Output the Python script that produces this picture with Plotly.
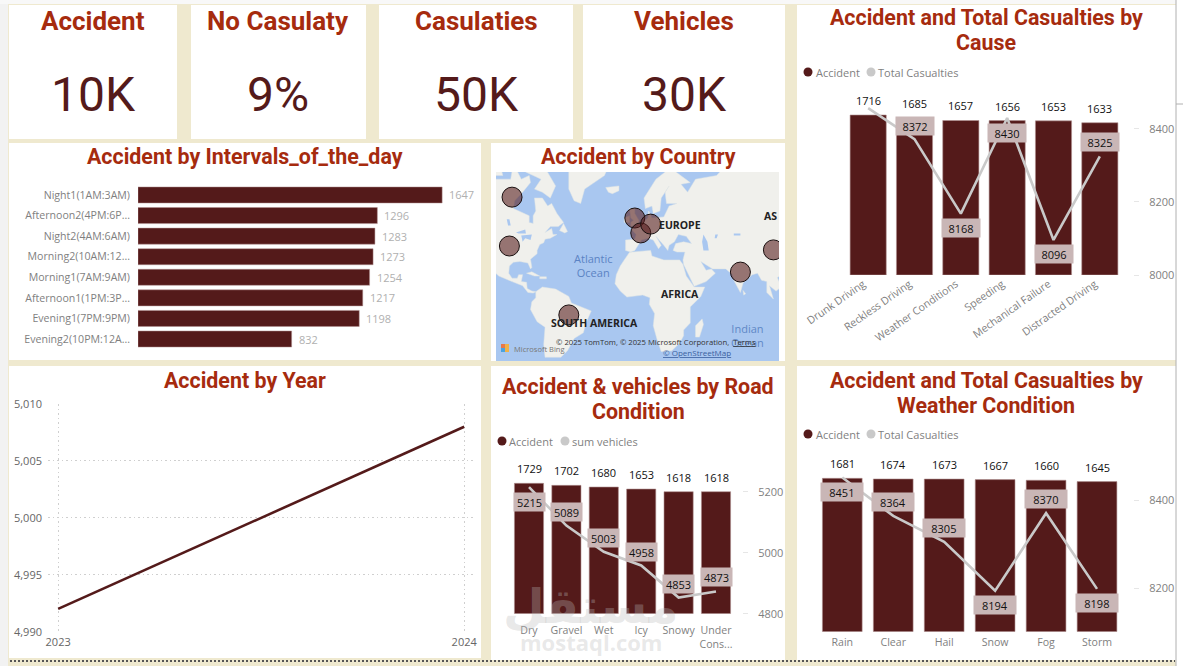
import math
import plotly.graph_objects as go

W, H = 1183, 666

# KPI cards
kpi_titles = ["Accident", "No Casulaty", "Casulaties", "Vehicles"]
kpi_values = ["10K", "9%", "50K", "30K"]

# Accident by interval of the day
interval_labels = ["Night1(1AM:3AM)", "Afternoon2(4PM:6P...", "Night2(4AM:6AM)", "Morning2(10AM:12...",
                   "Morning1(7AM:9AM)", "Afternoon1(1PM:3P...", "Evening1(7PM:9PM)", "Evening2(10PM:12A..."]
interval_values = [1647, 1296, 1283, 1273, 1254, 1217, 1198, 832]

# Accident by year
years = [2023, 2024]
year_values = [4992, 5008]

# Accident & vehicles by road condition
road_labels = ["Dry", "Gravel", "Wet", "Icy", "Snowy", "Under<br>Cons..."]
road_accidents = [1729, 1702, 1680, 1653, 1618, 1618]
road_vehicles = [5215, 5089, 5003, 4958, 4853, 4873]

# Accident and casualties by cause
cause_labels = ["Drunk Driving", "Reckless Driving", "Weather Conditions", "Speeding",
                "Mechanical Failure", "Distracted Driving"]
cause_accidents = [1716, 1685, 1657, 1656, 1653, 1633]
cause_casualties = [8457, 8372, 8168, 8430, 8096, 8325]

# Accident and casualties by weather
weather_labels = ["Rain", "Clear", "Hail", "Snow", "Fog", "Storm"]
weather_accidents = [1681, 1674, 1673, 1667, 1660, 1645]
weather_casualties = [8451, 8364, 8305, 8194, 8370, 8198]

# Country bubbles on the map
country_lon = [-95, -97, -52, -2, 2.5, 10, 78, 103]
country_lat = [62.3, 39.6, -9, 54, 46.8, 51.2, 22.8, 37.3]

# Rough coastlines as (lon, lat) rings
north_america = [(-130, 72), (-125, 70), (-115, 68), (-108, 68), (-96, 68), (-94, 72), (-88, 68), (-82, 69),
                 (-81, 67), (-87, 64), (-93, 61), (-94, 58), (-88, 56.5), (-82, 55), (-82, 52), (-79, 51.5),
                 (-79, 55), (-77, 57), (-78, 62), (-72, 62), (-68, 59), (-65, 60), (-61, 56), (-56, 52),
                 (-60, 50), (-66, 50), (-70, 47), (-65, 49), (-64, 46), (-61, 46), (-66, 44), (-70, 43.5),
                 (-71, 41.5), (-74, 40.5), (-76, 37), (-76, 35), (-81, 31.5), (-80, 26), (-81, 25), (-83, 29),
                 (-89, 30), (-94, 29.5), (-97, 27), (-97.5, 22), (-95, 18.5), (-91, 18.5), (-90, 21), (-87, 21),
                 (-88, 16), (-84, 15.5), (-83.5, 11), (-80, 9), (-77, 8.5), (-79, 7.5), (-83, 8), (-87, 13),
                 (-95, 16), (-105, 20), (-110, 24), (-113, 31), (-118, 33), (-125, 40), (-125, 48), (-130, 54)]
baffin = [(-80, 73), (-70, 71), (-62, 66), (-66, 62), (-72, 64), (-78, 65), (-73, 68), (-85, 70), (-88, 73)]
victoria = [(-117, 73), (-105, 73), (-102, 69), (-115, 69)]
newfoundland = [(-59, 48), (-56, 51.5), (-53, 47.5), (-55, 46.8)]
greenland = [(-55, 82), (-66, 78), (-56, 75), (-52, 70), (-52, 65), (-48, 61), (-43, 60), (-40, 65),
             (-25, 69), (-21, 72), (-20, 80), (-40, 83)]
iceland = [(-24, 65.5), (-14, 66), (-14, 64.5), (-19, 63.5), (-22, 64)]
south_america = [(-77, 8.5), (-72, 12), (-62, 10.5), (-52, 5), (-50, 0), (-44, -2.5), (-35, -6), (-39, -15),
                 (-41, -22), (-48, -26), (-53, -34), (-58, -38), (-70, -38), (-71, -30), (-70, -18), (-76, -14),
                 (-81, -5), (-80, 1), (-77, 4)]
africa = [(-6, 35.8), (10, 37), (11, 33.5), (20, 31), (32, 31), (34.5, 28), (37, 20), (43, 12), (51, 12),
          (48, 5), (40, -3), (40, -15), (35, -20), (35, -24), (32, -29), (26, -34), (18, -34.5), (15, -27),
          (12, -17), (13, -8), (9, -1), (9.5, 4), (4, 6), (-4, 5), (-8, 4.5), (-13, 9), (-17, 14.5),
          (-16, 21), (-13, 27), (-10, 31)]
eurasia = [(-9, 37), (-9, 43), (-2, 43.5), (-1, 46), (-4.5, 48.5), (2, 51), (8, 54), (8.5, 57), (11, 54),
           (20, 54.5), (24, 59), (30, 60), (22, 60), (21, 64), (24, 66), (18, 62), (17, 57), (12, 56), (11, 59),
           (6, 58), (5, 62), (14, 68), (25, 71), (40, 67), (33, 66.5), (38, 64), (44, 68), (60, 69), (68, 72),
           (80, 73), (100, 77), (110, 74), (140, 72), (140, 35), (122, 30), (120, 25), (110, 21), (106, 19),
           (109, 12), (105, 9), (100, 13), (103, 3), (98, 8), (98, 16), (94, 17), (91, 22), (87, 21), (80, 15),
           (78, 8), (73, 17), (72, 21), (67, 25), (57, 25), (51, 28), (48, 30), (52, 24), (56, 25), (59, 22),
           (52, 16), (43, 12.5), (35, 28), (34.5, 31), (36, 36), (30, 36), (27, 37), (29, 41), (35, 42), (41, 41),
           (37, 45), (31, 46), (28, 42), (24, 40), (23, 37), (20, 40), (14, 45), (18, 40), (16, 38), (12, 43),
           (8, 44), (3, 43), (0, 39), (-2, 37), (-5, 36)]
great_britain = [(-5, 50), (1, 51), (1, 53), (-2, 56), (-2, 58), (-6, 58), (-5, 54), (-3, 53), (-5, 52)]
ireland = [(-10, 52), (-6, 52), (-6, 55), (-10, 54)]
madagascar = [(49, -12), (50, -16), (47, -25), (44, -25), (44, -17)]
sri_lanka = [(80, 9.5), (82, 7), (80.5, 6)]
cuba = [(-84, 22), (-80, 23), (-74, 20), (-78, 20)]
hispaniola = [(-74, 19.5), (-69, 19.5), (-69, 18), (-74, 18)]
land_rings = [north_america, baffin, victoria, newfoundland, greenland, iceland, south_america, africa, eurasia,
              great_britain, ireland, madagascar, sri_lanka, cuba, hispaniola]

# Inland water drawn over the land
caspian = [(50, 46), (53, 42), (54, 37), (50, 37), (49, 42)]
aral = [(59, 46), (61, 46), (60, 44), (58.5, 44)]
balkhash = [(73, 46.5), (78, 46.5), (78, 45.5), (73, 45.5)]
superior = [(-92, 47), (-85, 48.5), (-84.5, 46.5), (-90, 46.5)]
michigan_huron = [(-88, 45.5), (-80, 46), (-81, 43), (-85, 44), (-87, 42)]
winnipeg = [(-99, 53.5), (-97, 53.5), (-96, 50.5), (-98, 50.5)]
great_slave = [(-115, 62), (-109, 63), (-110, 61.5)]
water_rings = [caspian, aral, balkhash, superior, michigan_huron, winnipeg, great_slave]

BG = "#efe9cf"
MAROON = "#541a1a"
TITLE = "#a62b0e"
GREY = "#7f7f7f"
LINE = "#c9c9c9"
CHIP = "#c9b6b6"
OCEAN = "#a9c7f0"
SANS = "Open Sans, Noto Sans, sans-serif"
HEAD = "Roboto, sans-serif"


def px(x):
    return x / W


def py(y):
    return 1 - y / H


def dom_x(a, b):
    return [px(a), px(b)]


def dom_y(top, bottom):
    return [py(bottom), py(top)]


def mercator(lat):
    return math.log(math.tan(math.pi / 4 + math.radians(lat) / 2))


def ring_trace_xy(rings):
    xs, ys = [], []
    for ring in rings:
        for lon, lat in ring + ring[:1]:
            xs.append(lon)
            ys.append(mercator(lat))
        xs.append(None)
        ys.append(None)
    return xs, ys


fig = go.Figure()
shapes, notes = [], []


def panel(x0, y0, x1, y1, color="white"):
    shapes.append(dict(type="rect", xref="paper", yref="paper", x0=px(x0), x1=px(x1), y0=py(y1), y1=py(y0),
                       fillcolor=color, line_width=0, layer="below"))


def label(text, x, y, size, color, family=SANS, anchor="center"):
    notes.append(dict(text=text, xref="paper", yref="paper", x=px(x), y=py(y), xanchor=anchor, yanchor="middle",
                      showarrow=False, font=dict(size=size, color=color, family=family)))


def heading(text, x, y, size=21.4):
    label("<b>%s</b>" % text, x, y, size, TITLE, HEAD)


def legend_row(xa, xt_a, xb, xt_b, y, name_a, name_b):
    for cx, col in ((xa, MAROON), (xb, LINE)):
        shapes.append(dict(type="circle", xref="paper", yref="paper", x0=px(cx - 4.5), x1=px(cx + 4.5),
                           y0=py(y + 4.5), y1=py(y - 4.5), fillcolor=col, line_width=0))
    label(name_a, xt_a, y, 11, GREY, anchor="left")
    label(name_b, xt_b, y, 11, GREY, anchor="left")


# Page frame and white panels
panel(0, 0, 8, H, "#f2f2f2")
panel(0, 0, W, 4, "#f8f8f8")
panel(1176, 0, W, H, "white")
for box in [(9, 5, 177, 139), (191, 5, 366, 139), (379, 5, 573, 139), (583, 5, 785, 139),
            (9, 143, 481, 360), (491, 143, 785, 361), (9, 366, 481, 658), (491, 366, 785, 660),
            (797, 5, 1176, 360), (797, 366, 1176, 660)]:
    panel(*box)
panel(496, 172, 779, 361, OCEAN)
shapes.append(dict(type="line", xref="paper", yref="paper", x0=px(1176), x1=px(1176), y0=py(H), y1=py(0),
                   line=dict(color="#b0b0b0", width=1)))
shapes.append(dict(type="line", xref="paper", yref="paper", x0=px(1176), x1=px(W), y0=py(104), y1=py(104),
                   line=dict(color="#b0b0b0", width=1)))
shapes.append(dict(type="line", xref="paper", yref="paper", x0=px(10), x1=px(1175), y0=py(661), y1=py(661),
                   line=dict(color="#555555", width=2, dash="2px,2px")))

# KPI cards
for title, value, cx in zip(kpi_titles, kpi_values, (93, 278, 476, 684)):
    heading(title, cx, 21, 26)
    label(value, cx, 94, 48, MAROON, HEAD)

# Horizontal bars
heading("Accident by Intervals_of_the_day", 245, 156)
fig.add_trace(go.Bar(x=interval_values, y=interval_labels, orientation="h", xaxis="x", yaxis="y",
                     marker=dict(color=MAROON, line=dict(color="#b09090", width=0.5)), width=0.78))
for name, val in zip(interval_labels, interval_values):
    notes.append(dict(text=str(val), x=val, y=name, xref="x", yref="y", xanchor="left", xshift=5, showarrow=False,
                      font=dict(size=11, color="#b0b0b0", family=SANS)))
layout = dict(
    xaxis=dict(domain=dom_x(138, 480), range=[0, 1852], visible=False, fixedrange=True),
    yaxis=dict(domain=dom_y(184.7, 349.3), anchor="x", autorange="reversed", showgrid=False, showline=False,
               ticks="", ticklabelstandoff=7, tickfont=dict(size=10.6, color=GREY, family=SANS)),
)

# Map
heading("Accident by Country", 638, 156)
land_x, land_y = ring_trace_xy(land_rings)
fig.add_trace(go.Scatter(x=land_x, y=land_y, xaxis="x2", yaxis="y2", mode="lines", fill="toself",
                         fillcolor="#f0f0ec", line=dict(color="#dfe4e4", width=0.5), hoverinfo="skip"))
water_x, water_y = ring_trace_xy(water_rings)
fig.add_trace(go.Scatter(x=water_x, y=water_y, xaxis="x2", yaxis="y2", mode="lines", fill="toself",
                         fillcolor=OCEAN, line=dict(width=0), hoverinfo="skip"))
fig.add_trace(go.Scatter(x=country_lon, y=[mercator(v) for v in country_lat], xaxis="x2", yaxis="y2", mode="markers",
                         marker=dict(size=20, color="rgba(84,26,26,0.58)", line=dict(color="#1a1010", width=1))))
lon_at = lambda v: -17 + (v - 615) / 1.32
merc_at = lambda v: (303 - v) / 75.6
layout["xaxis2"] = dict(domain=dom_x(496, 779), range=[lon_at(496), lon_at(779)], visible=False)
layout["yaxis2"] = dict(domain=dom_y(172, 361), range=[merc_at(361), merc_at(172)], visible=False, anchor="x2")
label("Atlantic<br>Ocean", 593, 265, 11, "#5b83c4")
label("Indian<br>Ocean", 747, 336, 11, "#5f88c6")
label("<b>EUROPE</b>", 680, 225, 10.5, "#222222")
label("<b>AFRICA</b>", 680, 294, 10.5, "#222222")
label("<b>SOUTH AMERICA</b>", 594, 323, 10.5, "#222222")
label("<b>AS</b>", 779, 216, 10.5, "#222222", anchor="right")
label("© 2025 TomTom, © 2025 Microsoft Corporation,  <u>Terms</u>", 554, 342, 7.7, "#333333", anchor="left")
label("<u>© OpenStreetMap</u>", 661, 352, 8, "#3a5fa0", anchor="left")
label("Microsoft Bing", 512, 349, 7.5, "#777777", anchor="left")
for x0, y0, col in ((501, 344, "#e8794a"), (505, 344, "#f0b24a"), (501, 348, "#4aa3e0"), (505, 348, "#f0b24a")):
    panel(x0, y0, x0 + 4, y0 + 4, col)
    shapes[-1]["layer"] = "above"

# Yearly line
heading("Accident by Year", 245, 380)
fig.add_trace(go.Scatter(x=years, y=year_values, xaxis="x3", yaxis="y3", mode="lines",
                         line=dict(color=MAROON, width=2.6)))
grid = dict(showgrid=True, gridcolor="#cfcfcf", griddash="1.5px,3px", gridwidth=1, zeroline=False, showline=False,
            ticks="", tickfont=dict(size=11, color="#666666", family=SANS))
layout["xaxis3"] = dict(domain=dom_x(48, 473), range=[2022.975, 2024.0217], tickvals=years, anchor="y3",
                        tickformat="d", ticklabelstandoff=2, **grid)
layout["yaxis3"] = dict(domain=dom_y(404, 631.7), range=[4990, 5010], tickvals=[4990, 4995, 5000, 5005, 5010],
                        tickformat=",", anchor="x3", ticklabelstandoff=5, **grid)


def combo(n, labels, bars, line, x0, x1, top, bottom, bar_top, line_range, line_ticks, axis_x, shifts,
          angle=0, standoff=0, shift_labels=0):
    bar_w = 0.78
    xa, ya, yb = "x%d" % n, "y%d" % (2 * n - 4), "y%d" % (2 * n - 3)
    fig.add_trace(go.Bar(x=labels, y=bars, xaxis=xa, yaxis=ya, width=bar_w,
                         marker=dict(color=MAROON, line=dict(color="#b09090", width=0.6))))
    fig.add_trace(go.Scatter(x=labels, y=line, xaxis=xa, yaxis=yb, mode="lines",
                             line=dict(color=LINE, width=2.6)))
    layout["xaxis%d" % n] = dict(domain=dom_x(x0, x1), range=[-0.5, len(labels) - 0.5], anchor=ya, showgrid=False,
                                 showline=False, ticks="", tickangle=angle, categoryorder="array",
                                 categoryarray=labels, ticklabelstandoff=standoff, ticklabelshift=shift_labels,
                                 tickfont=dict(size=10.6, color=GREY, family=SANS))
    layout["yaxis%d" % (2 * n - 4)] = dict(domain=dom_y(top, bottom), range=[0, bar_top], visible=False, anchor=xa)
    layout["yaxis%d" % (2 * n - 3)] = dict(domain=dom_y(top, bottom), range=line_range, overlaying=ya, anchor="free",
                                           position=px(axis_x), side="right", tickvals=line_ticks, showgrid=False,
                                           zeroline=False, showline=False, ticks="outside", ticklen=5,
                                           tickcolor="#e6e6e6", ticklabelstandoff=8,
                                           tickfont=dict(size=11, color=GREY, family=SANS))
    for name, bar in zip(labels, bars):
        notes.append(dict(text=str(bar), x=name, y=bar, xref=xa, yref=ya, yanchor="bottom", yshift=5, showarrow=False,
                          font=dict(size=11, color="#111111", family=SANS)))
    for name, val, shift in zip(labels, line, shifts):
        if shift is None:
            continue
        notes.append(dict(text=str(val), x=name, y=val, xref=xa, yref=yb, yshift=shift, showarrow=False,
                          bgcolor=CHIP, width=bar_w * (x1 - x0) / len(labels), height=16,
                          font=dict(size=11, color="#111111", family=SANS)))


# Road condition
heading("Accident &amp; vehicles by Road", 638, 386)
heading("Condition", 638, 411)
legend_row(502, 507, 565, 570, 441, "Accident", "sum vehicles")
combo(4, road_labels, road_accidents, road_vehicles, 510.3, 734.7, 465, 613.7, 1972, [4800, 5287.5],
      [4800, 5000, 5200], 742, [-15, 14, 14, 14, 14, 14], standoff=9)

# Cause
heading("Accident and Total Casualties by", 986, 17)
heading("Cause", 986, 42)
legend_row(808, 814, 871, 876, 72, "Accident", "Total Casualties")
combo(5, cause_labels, cause_accidents, cause_casualties, 845, 1123, 95, 275, 1930.5, [8000, 8493],
      [8000, 8200, 8400], 1133, [None, 13, -14, -15, -14, 14], angle=-35, shift_labels=-5)

# Weather
heading("Accident and Total Casualties by", 986, 380)
heading("Weather Condition", 986, 405)
legend_row(808, 814, 871, 876, 434, "Accident", "Total Casualties")
combo(6, weather_labels, weather_accidents, weather_casualties, 816.8, 1122.5, 460, 631.7, 1882, [8100.7, 8490.9],
      [8200, 8400], 1133, [-14, 14, 14, -14, 14, -14], standoff=3)

# Site watermark
label("<b>مستقل</b>", 591, 606, 48, "rgba(185,185,185,0.32)", "DejaVu Sans")
label("<b>mostaql.com</b>", 591, 642, 22, "rgba(185,185,185,0.32)", "Open Sans")

fig.update_layout(template="none", width=W, height=H, margin=dict(l=0, r=0, t=0, b=0), autosize=False,
                  showlegend=False, paper_bgcolor=BG, plot_bgcolor="rgba(0,0,0,0)", barmode="overlay",
                  shapes=shapes, annotations=notes, **layout)
fig.write_html("out.html", config=dict(displayModeBar=False))
